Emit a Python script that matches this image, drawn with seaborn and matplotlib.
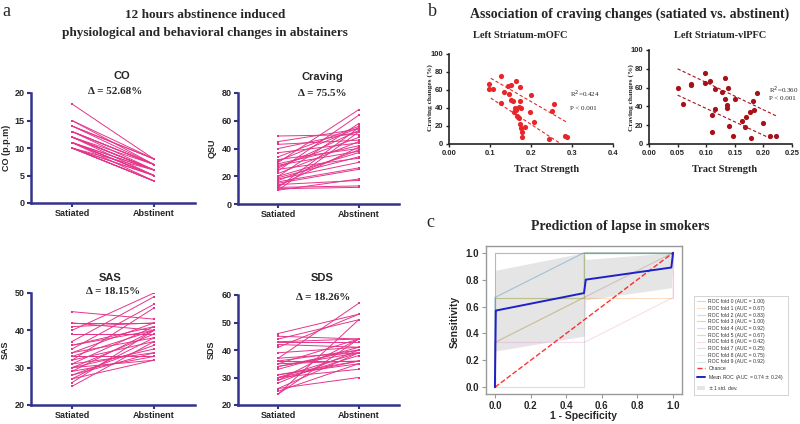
import numpy as np
import pandas as pd
import matplotlib
matplotlib.use("Agg")
import matplotlib.pyplot as plt
import seaborn as sns

# ---------------- panel a: paired values (satiated -> abstinent) ----------------
conditions = ["Satiated", "Abstinent"]
co_sat = [18, 15, 15, 14, 14, 13, 13, 13, 12, 12, 12, 12, 11, 11, 11, 11, 11, 10, 10, 10,
          10, 10, 10, 12, 13, 11, 10, 14, 12, 11]
co_abs = [8, 8, 7, 8, 7, 7, 6, 7, 6, 6, 5, 7, 5, 6, 5, 4, 6, 4, 5, 4,
          5, 6, 4, 6, 7, 5, 4, 8, 6, 5]
qsu_sat = [49, 45, 43, 40, 37, 34, 32, 31, 30, 29, 28, 27, 26, 25, 24, 22, 20, 20, 19, 18,
           17, 16, 15, 14, 13, 12, 12, 11, 10, 10]
qsu_abs = [50, 54, 46, 52, 44, 56, 40, 55, 68, 42, 38, 48, 53, 33, 64, 45, 37, 58, 34, 30,
           39, 26, 25, 17, 41, 13, 55, 12, 52, 18]
sas_sat = [45, 42, 42, 41, 40, 39, 39, 37, 36, 36, 35, 34, 34, 33, 33, 32, 32, 31, 31, 30,
           30, 30, 29, 29, 28, 28, 27, 27, 26, 25]
sas_abs = [43, 42, 40, 42, 50, 39, 39, 49, 41, 40, 47, 38, 42, 40, 33, 46, 37, 41, 34, 39,
           35, 32, 40, 33, 36, 34, 38, 32, 40, 37]
sds_sat = [46, 45, 44, 43, 43, 42, 41, 39, 37, 37, 36, 36, 35, 35, 34, 34, 33, 31, 31, 30,
           30, 30, 29, 29, 28, 26, 26, 25, 24, 24]
sds_abs = [53, 44, 51, 43, 44, 41, 53, 41, 39, 57, 40, 36, 44, 36, 40, 39, 41, 36, 35, 39,
           33, 36, 44, 38, 40, 30, 39, 35, 51, 44]
delta_labels = ["52.68%", "75.5%", "18.15%", "18.26%"]

# ---------------- panel b: tract strength vs craving change ----------------
mofc_x = [0.097, 0.097, 0.108, 0.128, 0.126, 0.135, 0.143, 0.150, 0.146, 0.152, 0.164, 0.172,
          0.158, 0.163, 0.167, 0.170, 0.172, 0.171, 0.174, 0.176, 0.178, 0.179, 0.168, 0.185,
          0.198, 0.200, 0.207, 0.243, 0.252, 0.257, 0.284, 0.288, 0.160, 0.155, 0.175]
mofc_y = [67, 61, 61, 75, 46, 58, 64, 65, 55, 49, 70, 63,
          36, 38, 31, 41, 48, 29, 22, 18, 13, 8, 30, 19,
          35, 54, 24, 6, 37, 44, 9, 8, 40, 48, 40]
mofc_fit_x = [[0.102, 0.288], [0.102, 0.270]]
mofc_fit_y = [[73, 24], [51, 1]]

vlpfc_x = [0.050, 0.059, 0.073, 0.073, 0.098, 0.098, 0.107, 0.111, 0.110, 0.115, 0.116, 0.128,
           0.133, 0.133, 0.136, 0.136, 0.138, 0.140, 0.146, 0.150, 0.162, 0.167, 0.170, 0.176,
           0.178, 0.181, 0.184, 0.188, 0.200, 0.212, 0.222]
vlpfc_y = [60, 43, 64, 63, 75, 65, 67, 13, 31, 37, 58, 55,
           70, 48, 41, 38, 60, 19, 8, 48, 24, 18, 29, 34,
           6, 46, 36, 54, 22, 8, 9]
vlpfc_fit_x = [[0.050, 0.222], [0.050, 0.212]]
vlpfc_fit_y = [[80, 30], [52, 6]]

# ---------------- panel c: ROC folds ----------------
fold_fpr = [[0, 0, 1], [0, 0, 1, 1], [0, 0, 0.5, 0.5, 1], [0, 0, 1], [0, 0, 0.5, 1],
            [0, 0, 0.5, 1], [0, 0, 0.5, 1, 1], [0, 0.5, 0.5, 1], [0, 0, 0.5, 0.5, 1],
            [0, 0, 0.5, 1]]
fold_tpr = [[0, 1, 1], [0, 0.667, 0.667, 1], [0, 0.667, 0.667, 1, 1], [0, 1, 1],
            [0, 0.667, 1, 1], [0, 0.333, 0.667, 1], [0, 0.333, 0.333, 0.667, 1],
            [0, 0, 1, 1], [0, 0.333, 0.667, 1, 1], [0, 0.667, 1, 1]]
fold_auc = [1.00, 0.67, 0.83, 1.00, 0.92, 0.67, 0.42, 0.25, 0.75, 0.92]
roc_grid = [0.0, 0.005, 0.5, 0.51, 0.99, 1.0]
mean_tpr = [0.0, 0.57, 0.70, 0.80, 0.89, 1.0]
std_tpr = [0.0, 0.30, 0.32, 0.15, 0.15, 0.0]

sns.set_style("ticks")
plt.rcParams["font.family"] = ["Liberation Sans", "DejaVu Sans"]
SERIF = ["Liberation Serif", "DejaVu Serif"]

W, H = 800, 424
fig = plt.figure(figsize=(8, 4.24), dpi=100)


def P(x, y):
    return x / W, 1 - y / H


def px_axes(left, top, right, bottom):
    return fig.add_axes([left / W, 1 - bottom / H, (right - left) / W, (bottom - top) / H])


navy = "#33338a"
pink = "#e4358b"


def paired(box, sat, abst, ylim, ystep, ylabel, ylab_pos, title, tpos, delta, dpos):
    ax = px_axes(*box)
    n = len(sat)
    df = pd.DataFrame({"subject": list(range(n)) * 2,
                       "cond": [0] * n + [1] * n,
                       "value": sat + abst})
    sns.lineplot(data=df, x="cond", y="value", units="subject", estimator=None,
                 color=pink, lw=0.7, marker="s", markersize=1.8, markeredgewidth=0, ax=ax)
    ax.set_xlim(-0.5, 1.5)
    ax.set_ylim(*ylim)
    ax.set_yticks(np.arange(ylim[0], ylim[1] + 1, ystep))
    ax.set_xticks([0, 1], conditions)
    sns.despine(ax=ax)
    for s in ["left", "bottom"]:
        ax.spines[s].set_color(navy)
        ax.spines[s].set_linewidth(1.8)
    ax.tick_params(color=navy, width=1.5, length=3, pad=1.5, labelsize=6.5)
    for t in ax.get_xticklabels() + ax.get_yticklabels():
        t.set_fontweight("bold")
    ax.set_xlabel("")
    ax.set_ylabel(ylabel, fontsize=6.5, fontweight="bold")
    ax.yaxis.set_label_coords(*P(*ylab_pos), transform=fig.transFigure)
    fig.text(*P(*tpos), title, ha="center", va="center", fontsize=8, fontweight="bold")
    fig.text(*P(*dpos), "\u0394 = " + delta, ha="center", va="center", fontsize=8,
             fontweight="bold", family=SERIF)


paired((31, 93, 195, 203), co_sat, co_abs, (0, 20), 5, "CO (p.p.m)", (11, 148),
       "CO", (122, 76), delta_labels[0], (115, 91))
paired((238, 93, 399, 204), qsu_sat, qsu_abs, (0, 80), 20, "QSU", (217, 148),
       "Craving", (322, 77), delta_labels[1], (322, 93))
paired((31, 293, 195, 405), sas_sat, sas_abs, (20, 50), 10, "SAS", (10, 350),
       "SAS", (110, 278), delta_labels[2], (113, 292))
paired((238, 295, 399, 405), sds_sat, sds_abs, (20, 60), 10, "SDS", (216, 350),
       "SDS", (322, 278), delta_labels[3], (323, 297))

fig.text(*P(6, 11), "a", fontsize=13, family=SERIF, ha="center", va="center")
fig.text(*P(205, 15), "12 hours abstinence induced", fontsize=9.5, fontweight="bold",
         family=SERIF, ha="center", va="center")
fig.text(*P(205, 33), "physiological and behavioral changes in abstainers", fontsize=9.5,
         fontweight="bold", family=SERIF, ha="center", va="center")


# ---------------- panel b ----------------
def scatter_panel(box, xs, ys, fx, fy, color, xlim, xticks, xlabels, sub, sub_x,
                  ylab_x, xlab_x, stats, stat_pos):
    ax = px_axes(*box)
    sns.scatterplot(x=xs, y=ys, color=color, s=14, linewidth=0, ax=ax)
    for lx, ly in zip(fx, fy):
        ax.plot(lx, ly, ls=(0, (3, 2)), color=color, lw=0.8)
    ax.set_xlim(*xlim)
    ax.set_ylim(0, 100)
    ax.set_xticks(xticks, xlabels)
    ax.set_yticks(range(0, 101, 20))
    sns.despine(ax=ax)
    for s in ["left", "bottom"]:
        ax.spines[s].set_linewidth(1.2)
        ax.spines[s].set_color("#222")
    ax.tick_params(width=1.0, length=2.5, pad=1.5, labelsize=5.5, color="#222")
    for t in ax.get_xticklabels() + ax.get_yticklabels():
        t.set_fontweight("bold")
    ax.set_ylabel("Craving changes (%)", fontsize=5.3, fontweight="bold", family=SERIF)
    ax.yaxis.set_label_coords(*P(ylab_x, 98), transform=fig.transFigure)
    ax.set_xlabel("Tract Strength", fontsize=7.5, fontweight="bold", family=SERIF)
    ax.xaxis.set_label_coords(*P(xlab_x, 165), transform=fig.transFigure)
    fig.text(*P(sub_x, 36), sub, fontsize=7.5, fontweight="bold", family=SERIF,
             ha="center", va="center")
    fig.text(*P(stat_pos[0], stat_pos[1]), "R$^2$=" + stats, fontsize=5, family=SERIF,
             va="center")
    fig.text(*P(stat_pos[0], stat_pos[2]), "P < 0.001", fontsize=5, family=SERIF, va="center")


scatter_panel((449, 54, 613, 144), mofc_x, mofc_y, mofc_fit_x, mofc_fit_y, "#e8262a",
              (0, 0.4), [0, 0.1, 0.2, 0.3, 0.4], ["0.00", "0.1", "0.2", "0.3", "0.4"],
              "Left Striatum-mOFC", 520, 433, 547, "0.424", (570, 94, 108))
scatter_panel((649, 50, 792, 144), vlpfc_x, vlpfc_y, vlpfc_fit_x, vlpfc_fit_y, "#a8101a",
              (0, 0.25), [0, 0.05, 0.1, 0.15, 0.2, 0.25],
              ["0.00", "0.05", "0.10", "0.15", "0.20", "0.25"],
              "Left Striatum-vlPFC", 720, 634, 725, "0.360", (769, 90, 99))

fig.text(*P(432, 11), "b", fontsize=13, family=SERIF, ha="center", va="center")
fig.text(*P(630, 14), "Association of craving changes (satiated vs. abstinent)", fontsize=10,
         fontweight="bold", family=SERIF, ha="center", va="center")

# ---------------- panel c ----------------
ax = px_axes(486, 246, 682, 394)
fold_colors = sns.color_palette("tab10", 10)
for i in range(10):
    ax.plot(fold_fpr[i], fold_tpr[i], color=fold_colors[i], lw=0.8, alpha=0.25,
            label="ROC fold %d (AUC = %.2f)" % (i, fold_auc[i]))
ax.plot([0, 1], [0, 1], ls="--", lw=1.0, color="r", alpha=0.8, label="Chance")
mt = np.array(mean_tpr)
sd = np.array(std_tpr)
sns.lineplot(x=roc_grid, y=mean_tpr, color="#2020c8", lw=1.4, sort=False, ax=ax,
             label="Mean ROC (AUC = 0.74 $\\pm$ 0.24)")
ax.fill_between(roc_grid, np.maximum(mt - sd, 0), np.minimum(mt + sd, 1), color="grey",
                alpha=0.2, lw=0, label="$\\pm$ 1 std. dev.")
ax.set_xlim(-0.05, 1.05)
ax.set_ylim(-0.05, 1.05)
ax.set_xticks(np.arange(0, 1.01, 0.2))
ax.set_yticks(np.arange(0, 1.01, 0.2))
for s in ax.spines.values():
    s.set_color("#999")
    s.set_linewidth(1.0)
ax.tick_params(labelsize=7, color="#999", length=3, pad=2)
for t in ax.get_xticklabels() + ax.get_yticklabels():
    t.set_fontweight("bold")
ax.set_xlabel("1 - Specificity", fontsize=7.5, fontweight="bold")
ax.xaxis.set_label_coords(*P(584, 411), transform=fig.transFigure)
ax.set_ylabel("Sensitivity", fontsize=7.5, fontweight="bold")
ax.yaxis.set_label_coords(*P(460, 322), transform=fig.transFigure)
leg = ax.legend(loc="upper left", bbox_to_anchor=P(691, 293), bbox_transform=fig.transFigure,
                fontsize=3.7, handlelength=1.6, handletextpad=0.6, labelspacing=0.33,
                borderpad=0.7, frameon=True, fancybox=False, edgecolor="#ccc", framealpha=1)
leg.get_frame().set_linewidth(0.6)
for t in leg.get_texts():
    t.set_color("#333")

fig.text(*P(430, 222), "c", fontsize=13, family=SERIF, ha="center", va="center")
fig.text(*P(620, 227), "Prediction of lapse in smokers", fontsize=10, fontweight="bold",
         family=SERIF, ha="center", va="center")

fig.savefig("out.png", dpi=100)
